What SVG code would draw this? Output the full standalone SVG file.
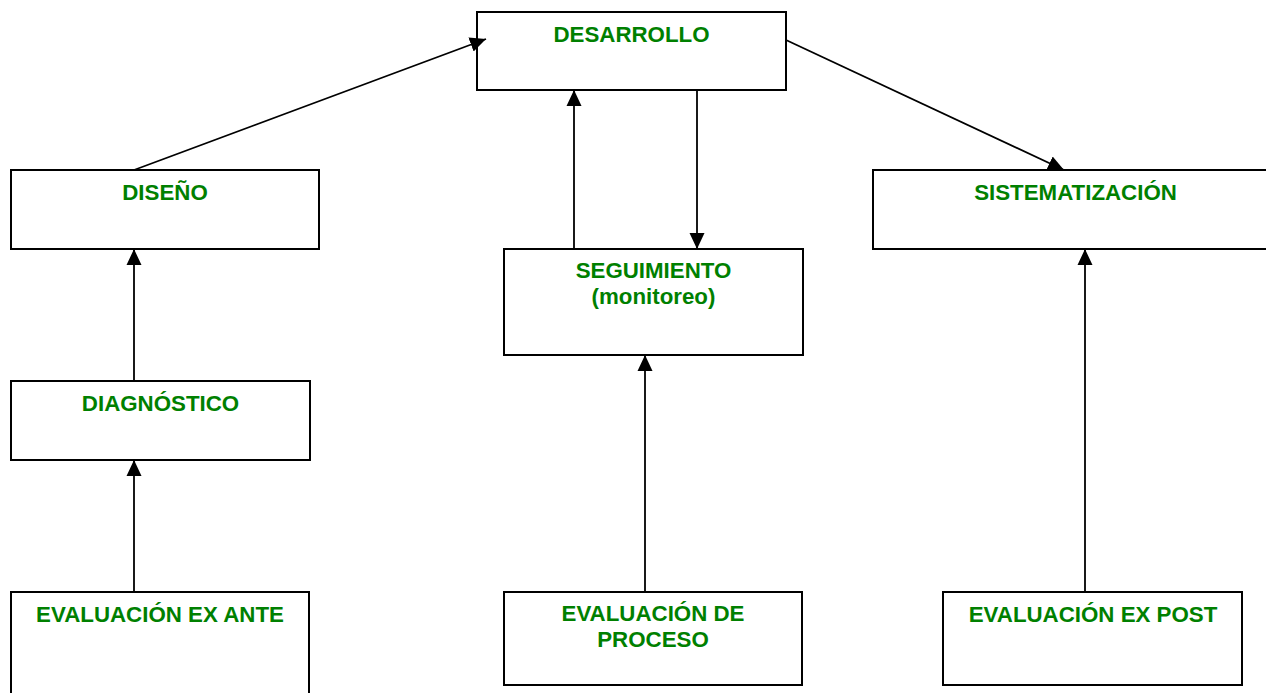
<svg xmlns="http://www.w3.org/2000/svg" width="1266" height="693" viewBox="0 0 1266 693">
<style>
.box{fill:#fff;stroke:#000;stroke-width:2}
.t{font-family:"Liberation Sans",Arial,sans-serif;font-weight:bold;font-size:22.3px;fill:#008000;text-anchor:middle}
.c{stroke:#000;stroke-width:1.8;fill:none;marker-end:url(#ah)}
</style>
<defs>
<marker id="ah" markerUnits="userSpaceOnUse" markerWidth="18" markerHeight="16" refX="16" refY="8" orient="auto">
<path d="M0,0.5 L16,8 L0,15.5 Z" fill="#000"/>
</marker>
</defs>
<rect width="1266" height="693" fill="#fff"/>
<g id="n-desarrollo"><rect class="box" x="477" y="12" width="309" height="78"/><text class="t" x="631.5" y="42">DESARROLLO</text></g>
<g id="n-diseno"><rect class="box" x="11" y="170" width="308" height="79"/><text class="t" x="165" y="200">DISEÑO</text></g>
<g id="n-seguimiento"><rect class="box" x="504" y="249" width="299" height="106"/><text class="t" x="653.5" y="278">SEGUIMIENTO</text><text class="t" x="653.5" y="304">(monitoreo)</text></g>
<g id="n-sistematizacion"><rect class="box" x="873" y="170" width="405" height="79"/><text class="t" x="1075.5" y="200">SISTEMATIZACIÓN</text></g>
<g id="n-diagnostico"><rect class="box" x="11" y="381" width="299" height="79"/><text class="t" x="160.5" y="411">DIAGNÓSTICO</text></g>
<g id="n-exante"><rect class="box" x="11" y="592" width="298" height="110"/><text class="t" x="160" y="622">EVALUACIÓN EX ANTE</text></g>
<g id="n-proceso"><rect class="box" x="504" y="592" width="298" height="93"/><text class="t" x="653" y="621">EVALUACIÓN DE</text><text class="t" x="653" y="647">PROCESO</text></g>
<g id="n-expost"><rect class="box" x="943" y="592" width="299" height="93"/><text class="t" x="1093" y="622">EVALUACIÓN EX POST</text></g>
<g id="connectors">
<line class="c" x1="134" y1="170" x2="486" y2="39"/>
<line class="c" x1="786" y1="40" x2="1064" y2="170"/>
<line class="c" x1="574" y1="249" x2="574" y2="90"/>
<line class="c" x1="697" y1="90" x2="697" y2="249"/>
<line class="c" x1="134" y1="381" x2="134" y2="249"/>
<line class="c" x1="134" y1="592" x2="134" y2="460"/>
<line class="c" x1="645" y1="592" x2="645" y2="355"/>
<line class="c" x1="1085" y1="592" x2="1085" y2="249"/>
</g>
</svg>
